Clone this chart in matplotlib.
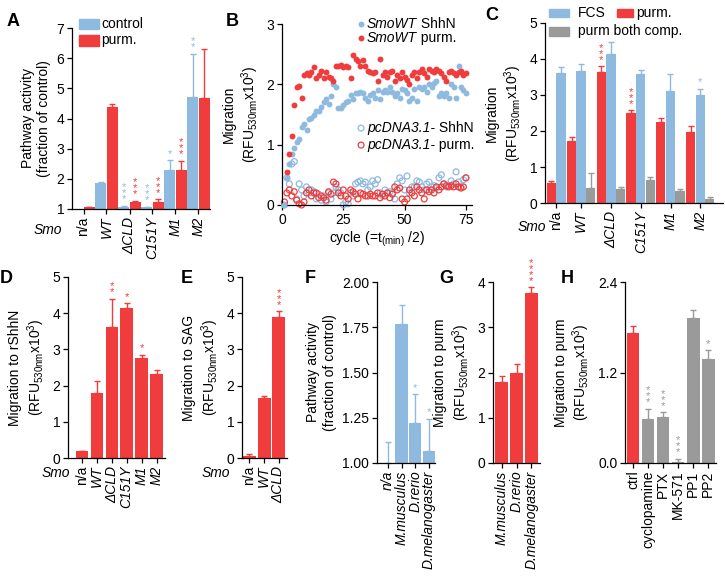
import numpy as np
import matplotlib
matplotlib.use('Agg')
import matplotlib.pyplot as plt
from matplotlib.patches import Rectangle

plt.rcParams['font.family'] = ['Liberation Sans', 'DejaVu Sans']
plt.rcParams['mathtext.fontset'] = 'custom'
plt.rcParams['mathtext.rm'] = 'Liberation Sans'
plt.rcParams['mathtext.it'] = 'Liberation Sans:italic'
plt.rcParams['mathtext.bf'] = 'Liberation Sans:bold'

BLUE = '#8EBADF'
RED = '#F03C3C'
GRAY = '#9A9A9A'

# ---------------- data ----------------
# A
a_cats = ['n/a', 'WT', 'ΔCLD', 'C151Y', 'M1', 'M2']
a_control = [1.0, 1.85, 1.08, 1.05, 2.3, 4.7]
a_control_err = [0.0, 0.05, 0.03, 0.02, 0.32, 1.45]
a_purm = [1.05, 4.37, 1.22, 1.22, 2.3, 4.68]
a_purm_err = [0.02, 0.1, 0.05, 0.1, 0.3, 1.62]
a_control_sig = ['', '', '***', '***', '*', '**']
a_purm_sig = ['', '', '***', '***', '***', '']

# B
b_cycles_wt_purm = list(range(2, 76))
b_wt_purm = [0.55, 0.85, 1.15, 1.65, 1.95, 1.98, 1.78, 2.15, 2.18, 2.15,
             2.2, 2.28, 2.1, 2.15, 2.22, 2.1, 2.2, 2.12, 2.1, 2.05,
             2.3, 2.3, 2.32, 2.28, 2.3, 2.28, 2.1, 2.48, 2.42, 2.38,
             2.3, 2.4, 2.3, 2.22, 2.2, 2.18, 2.2, 2.05, 2.42, 2.15,
             2.2, 2.12, 2.2, 2.22, 2.05, 2.15, 2.1, 2.2, 2.12, 2.08,
             2.0, 2.15, 2.2, 2.1, 2.2, 2.25, 2.18, 2.12, 2.25, 2.22,
             2.2, 2.25, 2.22, 2.18, 2.12, 2.05, 2.2, 2.22, 2.18, 2.15,
             2.2, 2.22, 2.15, 2.18]
b_cycles = list(range(1, 76))
b_wt_shhn = [0.0, 0.45, 0.68, 0.85, 0.95, 1.05, 1.1, 1.3, 1.35, 1.25,
             1.42, 1.45, 1.5, 1.55, 1.55, 1.62, 1.7, 1.75, 1.68, 1.8,
             2.0, 1.95, 1.6, 1.6, 1.65, 1.7, 1.72, 1.82, 1.75, 1.85,
             1.85, 1.88, 1.85, 1.78, 1.72, 1.82, 1.85, 1.78, 1.9, 1.75,
             1.88, 1.9, 1.88, 1.95, 1.88, 1.8, 1.85, 1.78, 1.92, 1.9,
             1.85, 1.72, 1.78, 1.92, 1.72, 1.95, 1.92, 1.95, 1.88, 2.0,
             1.95, 2.02, 2.05, 1.8, 1.85, 1.8, 1.85, 1.78, 2.0, 1.95,
             1.78, 2.3, 1.95, 1.9, 1.85]
b_pc_shhn = [0.0, 0.45, 0.35, 0.68, 0.72, 0.1, 0.35, 0.25, 0.15, 0.3,
             0.2, 0.25, 0.22, 0.1, 0.18, 0.08, 0.15, 0.05, 0.2, 0.1,
             0.2, 0.3, 0.25, 0.2, 0.0, 0.05, 0.02, 0.2, 0.15, 0.35,
             0.38, 0.4, 0.35, 0.38, 0.25, 0.3, 0.4, 0.35, 0.42, 0.2,
             0.15, 0.25, 0.2, 0.22, 0.2, 0.1, 0.35, 0.45, 0.4, 0.25,
             0.48, 0.2, 0.3, 0.3, 0.4, 0.38, 0.3, 0.25, 0.35, 0.38,
             0.3, 0.32, 0.28, 0.45, 0.5, 0.35, 0.3, 0.32, 0.4, 0.35,
             0.55, 0.38, 0.3, 0.42, 0.45]
b_pc_purm = [0.05, 0.2, 0.25, 0.15, 0.22, 0.08, 0.02, 0.0, 0.05, 0.2,
             0.25, 0.15, 0.2, 0.2, 0.12, 0.15, 0.12, 0.08, 0.22, 0.18,
             0.38, 0.35, 0.2, 0.15, 0.25, 0.15, 0.1, 0.25, 0.22, 0.18,
             0.1, 0.2, 0.18, 0.15, 0.15, 0.18, 0.15, 0.15, 0.2, 0.12,
             0.18, 0.15, 0.2, 0.12, 0.18, 0.3, 0.25, 0.28, 0.1, 0.05,
             0.1, 0.25, 0.2, 0.15, 0.3, 0.25, 0.2, 0.1, 0.25, 0.22,
             0.25, 0.2, 0.3, 0.25, 0.3, 0.35, 0.32, 0.3, 0.32, 0.3,
             0.35, 0.3, 0.28, 0.3, 0.45]

# C
c_cats = ['n/a', 'WT', 'ΔCLD', 'C151Y', 'M1', 'M2']
c_purm = [0.55, 1.72, 3.63, 2.49, 2.25, 1.98]
c_purm_err = [0.05, 0.12, 0.17, 0.08, 0.1, 0.17]
c_fcs = [3.62, 3.66, 4.15, 3.58, 3.12, 3.0]
c_fcs_err = [0.16, 0.21, 0.32, 0.12, 0.46, 0.17]
c_both = [None, 0.43, 0.38, 0.63, 0.33, 0.1]
c_both_err = [None, 0.4, 0.07, 0.08, 0.05, 0.08]
c_purm_sig = ['', '', '***', '***', '', '']
c_fcs_sig = ['', '', '', '', '', '*']

# D
d_cats = ['n/a', 'WT', 'ΔCLD', 'C151Y', 'M1', 'M2']
d_vals = [0.18, 1.8, 3.62, 4.15, 2.77, 2.32]
d_err = [0.02, 0.32, 0.78, 0.13, 0.08, 0.1]
d_sig = ['', '', '**', '*', '*', '']

# E
e_cats = ['n/a', 'WT', 'ΔCLD']
e_vals = [0.05, 1.67, 3.9]
e_err = [0.07, 0.05, 0.15]
e_sig = ['', '', '***']

# F
f_cats = ['n/a', 'M.musculus', 'D.rerio', 'D.melanogaster']
f_vals = [1.0, 1.77, 1.223, 1.065]
f_err = [0.115, 0.105, 0.157, 0.18]
f_sig = ['', '', '*', '*']

# G
g_cats = ['M.musculus', 'D.rerio', 'D.melanogaster']
g_vals = [1.78, 2.0, 3.75]
g_err = [0.15, 0.18, 0.13]
g_sig = ['', '', '****']

# H
h_cats = ['ctrl', 'cyclopamine', 'PTX', 'MK-571', 'PP1', 'PP2']
h_vals = [1.724, 0.589, 0.61, 0.013, 1.928, 1.385]
h_err = [0.09, 0.13, 0.066, 0.045, 0.097, 0.11]
h_sig = ['', '***', '***', '***', '', '*']

YLAB_RFU = '(RFU$_{\\mathrm{530nm}}$x10$^{3}$)'

# ---------------- figure ----------------
W, H = 725, 579
fig = plt.figure(figsize=(W / 100, H / 100), dpi=100)
FS = 10


def add_ax(l, r, t, b):
    return fig.add_axes([l / W, 1 - b / H, (r - l) / W, (b - t) / H])


def style(ax):
    for s in ['top', 'right']:
        ax.spines[s].set_visible(False)
    for s in ['left', 'bottom']:
        ax.spines[s].set_linewidth(0.9)
    ax.tick_params(direction='out', length=3.5, width=0.9, labelsize=FS, pad=2)


def ebar(ax, x, y, e, color):
    ax.errorbar([x], [y], yerr=[[0], [e]], fmt='none', ecolor=color,
                elinewidth=1, capsize=2.5, capthick=1, clip_on=False)


def stars(ax, x, y, s, color):
    if s:
        ax.annotate('\n'.join(s), (x, y), xytext=(0, 1.0), textcoords='offset points',
                    ha='center', va='bottom', fontsize=8, color=color,
                    linespacing=0.5, annotation_clip=False)


def xlabels(ax, pos, labels, italic):
    ax.set_xticks(pos)
    ax.set_xticklabels(labels, rotation=90, fontsize=FS)
    for t, it in zip(ax.get_xticklabels(), italic):
        t.set_fontstyle('italic' if it else 'normal')


def panel(x, y, s):
    fig.text(x / W, 1 - y / H, s, fontsize=13, fontweight='bold', ha='center', va='center')


def mixed_text(ax, x, y, ital, rest):
    t1 = ax.text(x, y, ital, transform=ax.transAxes, fontsize=FS, style='italic',
                 va='center', ha='left')
    ax.annotate(rest, xy=(1, 0.5), xycoords=t1, fontsize=FS, va='center', ha='left')


# ---- A ----
ax = add_ax(72, 210, 28, 209)
style(ax)
for i in range(len(a_cats)):
    xc, xp = 2 * i + 0.5, 2 * i + 1.5
    ax.bar(xc, a_control[i] - 1, bottom=1, width=0.96, color=BLUE)
    ax.bar(xp, a_purm[i] - 1, bottom=1, width=0.96, color=RED)
    if a_control_err[i] > 0:
        ebar(ax, xc, a_control[i], a_control_err[i], BLUE)
    ebar(ax, xp, a_purm[i], a_purm_err[i], RED)
    stars(ax, xc, a_control[i] + a_control_err[i], a_control_sig[i], BLUE)
    stars(ax, xp, a_purm[i] + a_purm_err[i], a_purm_sig[i], RED)
ax.set_xlim(0, 12)
ax.set_ylim(1, 7)
ax.set_yticks(range(1, 8))
xlabels(ax, [2 * i + 1 for i in range(len(a_cats))], a_cats, [c != 'n/a' for c in a_cats])
ax.set_ylabel('Pathway activity\n(fraction of control)', fontsize=FS, labelpad=4)
for k, (lab, col) in enumerate([('control', BLUE), ('purm.', RED)]):
    yc = 1.022 - k * 0.091
    ax.add_patch(Rectangle((0.051, yc - 0.028), 0.145, 0.056, transform=ax.transAxes,
                           color=col, clip_on=False))
    ax.text(0.215, yc, lab, transform=ax.transAxes, fontsize=FS, va='center', ha='left')
fig.text(62 / W, 1 - 230 / H, 'Smo', fontsize=FS, style='italic', ha='right', va='center')
panel(13, 22, 'A')

# ---- B ----
ax = add_ax(282, 472, 24, 205)
style(ax)
ax.scatter(b_cycles, b_pc_shhn, s=18, facecolors='none', edgecolors=BLUE, linewidths=0.9, clip_on=False, zorder=2)
ax.scatter(b_cycles, b_pc_purm, s=18, facecolors='none', edgecolors=RED, linewidths=0.9, clip_on=False, zorder=2)
ax.scatter(b_cycles, b_wt_shhn, s=18, color=BLUE, linewidths=0, clip_on=False, zorder=3)
ax.scatter(b_cycles_wt_purm, b_wt_purm, s=18, color=RED, linewidths=0, clip_on=False, zorder=3)
ax.set_xlim(0, 77.5)
ax.set_ylim(0, 3)
ax.set_xticks([0, 25, 50, 75])
ax.set_yticks([0, 1, 2, 3])
ax.set_ylabel('Migration\n' + YLAB_RFU, fontsize=FS, labelpad=4)
ax.set_xlabel('cycle (=t$_{\\mathrm{(min)}}$ /2)', fontsize=FS, labelpad=2)
leg = [(1.0, BLUE, True, 'SmoWT', ' ShhN'),
       (0.923, RED, True, 'SmoWT', ' purm.'),
       (0.425, BLUE, False, 'pcDNA3.1-', ' ShhN'),
       (0.331, RED, False, 'pcDNA3.1-', ' purm.')]
for yy, col, filled, ital, rest in leg:
    if filled:
        ax.scatter([0.416], [yy], s=18, color=col, linewidths=0, transform=ax.transAxes, clip_on=False)
    else:
        ax.scatter([0.416], [yy], s=18, facecolors='none', edgecolors=col, linewidths=0.9,
                   transform=ax.transAxes, clip_on=False)
    mixed_text(ax, 0.447, yy, ital, rest)
panel(232, 21, 'B')

# ---- C ----
ax = add_ax(545, 723, 23, 203)
style(ax)
gap = 0.1
pos = 0.0
ticks = []
for i in range(len(c_cats)):
    start = pos
    ax.bar(pos, c_purm[i], width=0.97, color=RED, align='edge')
    ebar(ax, pos + 0.485, c_purm[i], c_purm_err[i], RED)
    stars(ax, pos + 0.485, c_purm[i] + c_purm_err[i], c_purm_sig[i], RED)
    pos += 1
    ax.bar(pos, c_fcs[i], width=0.97, color=BLUE, align='edge')
    ebar(ax, pos + 0.485, c_fcs[i], c_fcs_err[i], BLUE)
    stars(ax, pos + 0.485, c_fcs[i] + c_fcs_err[i], c_fcs_sig[i], BLUE)
    pos += 1
    if c_both[i] is not None:
        ax.bar(pos, c_both[i], width=0.97, color=GRAY, align='edge')
        ebar(ax, pos + 0.485, c_both[i], c_both_err[i], GRAY)
        pos += 1
    ticks.append((start + pos) / 2)
    pos += gap
ax.set_xlim(-0.18, 18.36)
ax.set_ylim(0, 5)
ax.set_yticks(range(0, 6))
xlabels(ax, ticks, c_cats, [c != 'n/a' for c in c_cats])
ax.set_ylabel('Migration\n' + YLAB_RFU, fontsize=FS, labelpad=4)
for (x0, yc, w, col, tx, lab) in [(0.022, 1.056, 0.112, BLUE, 0.186, 'FCS'),
                                   (0.404, 1.056, 0.09, RED, 0.511, 'purm.'),
                                   (0.022, 0.953, 0.112, GRAY, 0.186, 'purm both comp.')]:
    ax.add_patch(Rectangle((x0, yc - 0.024), w, 0.048, transform=ax.transAxes, color=col, clip_on=False))
    ax.text(tx, yc, lab, transform=ax.transAxes, fontsize=FS, va='center', ha='left')
fig.text(546 / W, 1 - 227 / H, 'Smo', fontsize=FS, style='italic', ha='right', va='center')
panel(492, 16, 'C')


def simple_bars(ax, vals, errs, sigs, colors, width):
    for i, v in enumerate(vals):
        ax.bar(i, v, width=width, color=colors[i])
        ebar(ax, i, v, errs[i], colors[i])
        stars(ax, i, v + errs[i], sigs[i], colors[i])


# ---- D ----
ax = add_ax(68, 165, 277, 458)
style(ax)
simple_bars(ax, d_vals, d_err, d_sig, [RED] * 6, 0.84)
ax.set_xlim(-0.94, 5.57)
ax.set_ylim(0, 5)
ax.set_yticks(range(0, 6))
xlabels(ax, range(6), d_cats, [c != 'n/a' for c in d_cats])
ax.set_ylabel('Migration to rShhN\n' + YLAB_RFU, fontsize=FS, labelpad=4)
fig.text(70 / W, 1 - 473 / H, 'Smo', fontsize=FS, style='italic', ha='right', va='center')
panel(6, 279, 'D')

# ---- E ----
ax = add_ax(242, 287, 277, 458)
style(ax)
simple_bars(ax, e_vals, e_err, e_sig, [RED] * 3, 0.88)
ax.set_xlim(-0.5, 2.56)
ax.set_ylim(0, 5)
ax.set_yticks(range(0, 6))
xlabels(ax, range(3), e_cats, [c != 'n/a' for c in e_cats])
ax.set_ylabel('Migration to SAG\n' + YLAB_RFU, fontsize=FS, labelpad=4)
fig.text(230 / W, 1 - 473 / H, 'Smo', fontsize=FS, style='italic', ha='right', va='center')
panel(187, 279, 'E')

# ---- F ----
ax = add_ax(377, 435, 282, 463)
style(ax)
for i, v in enumerate(f_vals):
    ax.bar(i, v - 1, bottom=1, width=0.9, color=BLUE)
    ebar(ax, i, v, f_err[i], BLUE)
    stars(ax, i, v + f_err[i], f_sig[i], BLUE)
ax.set_xlim(-0.79, 3.44)
ax.set_ylim(1, 2)
ax.set_yticks([1.0, 1.25, 1.5, 1.75, 2.0])
ax.set_yticklabels(['1.00', '1.25', '1.50', '1.75', '2.00'])
xlabels(ax, range(4), f_cats, [True] * 4)
ax.set_ylabel('Pathway activity\n(fraction of control)', fontsize=FS, labelpad=4)
panel(310, 279, 'F')

# ---- G ----
ax = add_ax(493, 540, 282, 463)
style(ax)
simple_bars(ax, g_vals, g_err, g_sig, [RED] * 3, 0.87)
ax.set_xlim(-0.57, 2.57)
ax.set_ylim(0, 4)
ax.set_yticks(range(0, 5))
xlabels(ax, range(3), g_cats, [True] * 3)
ax.set_ylabel('Migration to purm\n' + YLAB_RFU, fontsize=FS, labelpad=4)
panel(446, 279, 'G')

# ---- H ----
ax = add_ax(625, 716, 282, 463)
style(ax)
simple_bars(ax, h_vals, h_err, h_sig, [RED] + [GRAY] * 5, 0.85)
ax.set_xlim(-0.53, 5.52)
ax.set_ylim(0, 2.4)
ax.set_yticks([0, 1.2, 2.4])
ax.set_yticklabels(['0.0', '1.2', '2.4'])
xlabels(ax, range(6), h_cats, [False] * 6)
ax.set_ylabel('Migration to purm\n' + YLAB_RFU, fontsize=FS, labelpad=4)
panel(567, 279, 'H')

fig.savefig('out.png', dpi=100)
